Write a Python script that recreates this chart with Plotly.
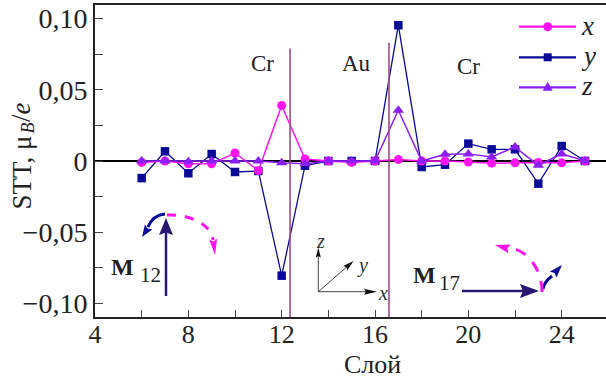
import math
import plotly.graph_objects as go

# ---------------- data ----------------
LAYERS = list(range(6, 26))
STT_X = [-0.001, 0.000, -0.002, -0.002, 0.0056, -0.0068, 0.039, 0.0014, 0.0, -0.001,
         0.0, 0.001, 0.0, 0.0, -0.0007, -0.0015, -0.0013, -0.001, -0.0013, 0.0]
STT_Y = [-0.012, 0.0068, -0.0086, 0.0049, -0.0077, -0.007, -0.0805, -0.0033, 0.0, 0.0,
         0.0, 0.0953, -0.0042, -0.0026, 0.0122, 0.0082, 0.0082, -0.0159, 0.0105, 0.0]
STT_Z = [0.0, 0.0, -0.0005, 0.0, 0.0, 0.0, -0.0013, -0.002, 0.0, 0.0,
         0.0, 0.0356, 0.0, 0.0047, 0.005, 0.0028, 0.0098, -0.003, 0.005, 0.0]

SERIES_NAMES = ["x", "y", "z"]

INTERFACES = [12.36, 16.6]
INTERFACE_TOPS = [0.079, 0.083]

X_TICKS = [4, 8, 12, 16, 20, 24]
Y_TICKS = [-0.10, -0.05, 0.0, 0.05, 0.10]
Y_TICKTEXT = ["\u22120,10", "\u22120,05", "0", "0,05", "0,10"]

MAGENTA = "#ff14f0"
NAVY = "#0a0a96"
VIOLET = "#8a1ef5"
INDIGO = "#2a1870"
MAUVE = "#a04c86"
FONT = "Liberation Serif, Times New Roman, serif"
TXT = "#222222"

# ---------------- geometry ----------------
W, H = 606, 383
ML, MR, MT, MB = 95, 0, 5, 66
PW, PH = W - ML - MR, H - MT - MB


def P(px, py):
    return ((px - ML) / PW, (H - MB - py) / PH)


def ptxt(pt):
    x, y = P(*pt)
    return f"{x:.5f},{y:.5f}"


def head_path(tip, frm, length, width, notch=0.85):
    dx, dy = tip[0] - frm[0], tip[1] - frm[1]
    n = math.hypot(dx, dy)
    ux, uy = dx / n, dy / n
    bx, by = tip[0] - ux * length, tip[1] - uy * length
    nx, ny = -uy, ux
    p1 = (bx + nx * width / 2, by + ny * width / 2)
    p2 = (bx - nx * width / 2, by - ny * width / 2)
    pn = (tip[0] - ux * length * notch, tip[1] - uy * length * notch)
    return f"M {ptxt(tip)} L {ptxt(p1)} L {ptxt(pn)} L {ptxt(p2)} Z"


fig = go.Figure()

fig.add_trace(go.Scatter(x=LAYERS, y=STT_Y, mode="lines+markers", name=SERIES_NAMES[1],
                         line=dict(color=NAVY, width=1.3),
                         marker=dict(symbol="square", size=8.5, color=NAVY)))
fig.add_trace(go.Scatter(x=LAYERS, y=STT_X, mode="lines+markers", name=SERIES_NAMES[0],
                         line=dict(color=MAGENTA, width=1.5),
                         marker=dict(symbol="circle", size=9, color=MAGENTA)))
fig.add_trace(go.Scatter(x=LAYERS, y=STT_Z, mode="lines+markers", name=SERIES_NAMES[2],
                         line=dict(color=VIOLET, width=1.5),
                         marker=dict(symbol="triangle-up", size=10, color=VIOLET)))

shapes = []
for xi, top in zip(INTERFACES, INTERFACE_TOPS):
    shapes.append(dict(type="line", xref="x", yref="y", x0=xi, x1=xi, y0=-0.1095, y1=top,
                       line=dict(color=MAUVE, width=1.6), layer="above"))


def seg(a, b, color, width, dash=None):
    ln = dict(color=color, width=width)
    if dash:
        ln["dash"] = dash
    shapes.append(dict(type="path", xref="paper", yref="paper",
                       path=f"M {ptxt(a)} L {ptxt(b)}", line=ln, layer="above"))


def curve(path, color, width, dash=None):
    ln = dict(color=color, width=width)
    if dash:
        ln["dash"] = dash
    shapes.append(dict(type="path", xref="paper", yref="paper", path=path, line=ln,
                       layer="above"))


def head(tip, frm, length, width, color, notch=0.85):
    shapes.append(dict(type="path", xref="paper", yref="paper",
                       path=head_path(tip, frm, length, width, notch),
                       fillcolor=color, line=dict(width=0), layer="above"))


# --- M12 decorations ---
seg((166, 296), (166, 232), INDIGO, 2.5)
head((166, 218), (166, 240), 17, 14, INDIGO)
curve(f"M {ptxt((165, 214))} Q {ptxt((153, 215))} {ptxt((148, 227))}", NAVY, 3)
head((142, 237), (150, 225), 12, 9, NAVY)
curve(f"M {ptxt((167, 215))} C {ptxt((192, 214))} {ptxt((212, 226))} {ptxt((213, 240))}",
      MAGENTA, 3, "9px,9px")
head((215, 255), (213, 238), 16, 8, MAGENTA)

# --- M17 decorations ---
seg((462, 291), (525, 291), INDIGO, 2.5)
head((539, 291), (520, 291), 19, 14, INDIGO)
curve(f"M {ptxt((543, 289))} Q {ptxt((544, 282))} {ptxt((552, 276))}", NAVY, 3)
head((562, 265), (550, 278), 13, 9, NAVY)
curve(f"M {ptxt((542, 292))} C {ptxt((542, 270))} {ptxt((528, 250))} {ptxt((510, 248))}",
      MAGENTA, 3, "11px,10px")
head((495, 245), (510, 249), 15, 9, MAGENTA)

# --- coordinate system icon ---
O = (318.3, 291.7)
for tip, ln, wd in [((318.3, 247.5), 10, 5), ((353.5, 261.0), 11, 6), ((377.0, 291.7), 13, 6)]:
    ux, uy = tip[0] - O[0], tip[1] - O[1]
    n = math.hypot(ux, uy)
    base = (tip[0] - ux / n * ln * 0.8, tip[1] - uy / n * ln * 0.8)
    seg(O, base, "#444444", 1)
    head(tip, O, ln, wd, "#111111")

# --- legend (drawn) ---
LEG_ROWS = [26.7, 57.3, 87.3]
LEG_COLORS = [MAGENTA, NAVY, VIOLET]
for row, col, kind in zip(LEG_ROWS, LEG_COLORS, ["circle", "square", "triangle"]):
    seg((519, row), (576, row), col, 2.2)
    cx = 547.7
    if kind == "circle":
        x0, y0 = P(cx - 4.5, row + 4.5)
        x1, y1 = P(cx + 4.5, row - 4.5)
        shapes.append(dict(type="circle", xref="paper", yref="paper", x0=x0, y0=y0,
                           x1=x1, y1=y1, fillcolor=col, line=dict(width=0), layer="above"))
    elif kind == "square":
        x0, y0 = P(cx - 4, row + 4)
        x1, y1 = P(cx + 4, row - 4)
        shapes.append(dict(type="rect", xref="paper", yref="paper", x0=x0, y0=y0,
                           x1=x1, y1=y1, fillcolor=col, line=dict(width=0), layer="above"))
    else:
        shapes.append(dict(type="path", xref="paper", yref="paper",
                           path=f"M {ptxt((cx, row - 5.5))} L {ptxt((cx + 5, row + 3.5))} "
                                f"L {ptxt((cx - 5, row + 3.5))} Z",
                           fillcolor=col, line=dict(width=0), layer="above"))

annotations = []


def ann(text, px, py, size, color=TXT, xanchor="center", yanchor="middle", **kw):
    x, y = P(px, py)
    d = dict(text=text, x=x, y=y, xref="paper", yref="paper", showarrow=False,
             xanchor=xanchor, yanchor=yanchor, borderpad=0,
             font=dict(family=FONT, size=size, color=color))
    d.update(kw)
    annotations.append(d)


for row, name in zip(LEG_ROWS, SERIES_NAMES):
    ann(f"<i>{name}</i>", 580, row - 1, 27, xanchor="left")

ann("Cr", 262, 63, 23)
ann("Au", 356, 63, 23)
ann("Cr", 468, 67, 23)
# M12 / M17 labels (main letter + subscript as separate texts)
ann("<b>M</b>", 135, 267, 24, xanchor="right")
ann("12", 139, 275, 21, xanchor="left")
ann("<b>M</b>", 437, 275, 24, xanchor="right")
ann("17", 438, 283, 21, xanchor="left")
ann("<i>z</i>", 320, 241, 20, color="#333333")
ann("<i>y</i>", 362, 265, 20, color="#333333")
ann("<i>x</i>", 383, 293, 20, color="#333333")
# y-axis title pieces (rotated)
ann("STT, \u03bc", 21, 172.5, 27, textangle=-90)
ann("<i>B</i>", 27, 128.5, 18, textangle=-90)
ann("/<i>e</i>", 21, 112, 27, textangle=-90)
ann("Слой", 372, 364, 26)

fig.update_layout(
    width=W, height=H,
    margin=dict(l=ML, r=MR, t=MT, b=MB, pad=0),
    paper_bgcolor="white", plot_bgcolor="white",
    font=dict(family=FONT, size=26, color=TXT),
    separators=", ",
    showlegend=False,
    shapes=shapes,
    annotations=annotations,
    xaxis=dict(range=[4, 25.9], tickvals=X_TICKS, ticks="inside", ticklen=7, tickwidth=1,
               tickcolor="#444444", showline=True, linecolor=TXT, linewidth=2,
               mirror=True, showgrid=False, zeroline=False, ticklabelstandoff=-7,
               minor=dict(dtick=2, tick0=4, ticks="inside", ticklen=7, tickcolor="#444444",
                          showgrid=False),
               tickfont=dict(family=FONT, size=26, color=TXT)),
    yaxis=dict(range=[-0.1095, 0.1095], tickvals=Y_TICKS, ticktext=Y_TICKTEXT,
               ticks="inside", ticklen=8, tickwidth=1, tickcolor="#444444",
               showline=True, linecolor=TXT, linewidth=2, mirror=False,
               showgrid=False, zeroline=True, zerolinecolor="#000000", zerolinewidth=2,
               minor=dict(dtick=0.025, tick0=0, ticks="inside", ticklen=8,
                          tickcolor="#444444", showgrid=False),
               tickfont=dict(family=FONT, size=28, color=TXT)),
)

fig.write_html("out.html")
